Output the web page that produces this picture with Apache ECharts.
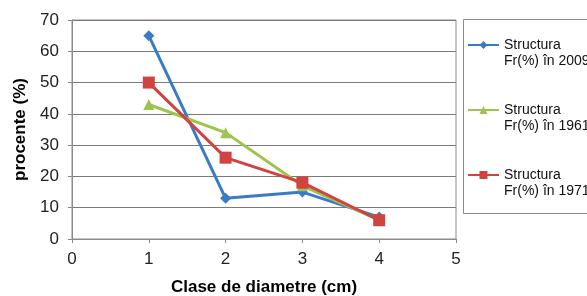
<!DOCTYPE html>
<html><head><meta charset="utf-8">
<script src="https://cdn.jsdelivr.net/npm/echarts@6/dist/echarts.min.js"></script>
<style>html,body{margin:0;padding:0;background:#fff}#c{width:587px;height:296px}</style>
</head><body><div id="c"></div>
<script>
var xValues = [1, 2, 3, 4];
var s2009 = [65, 13, 15, 7];
var s1961 = [43, 34, 17, 6];
var s1971 = [50, 26, 18, 6];
var seriesNames = ['Structura Fr(%) în 2009', 'Structura Fr(%) în 1961', 'Structura Fr(%) în 1971'];
var xTicks = [0, 1, 2, 3, 4, 5];
var yTicks = [0, 10, 20, 30, 40, 50, 60, 70];

function pairs(vals){ return xValues.map(function(x,i){ return [x, vals[i]]; }); }

var chart = echarts.init(document.getElementById('c'), null, {renderer:'canvas'});
var FONT = 'Liberation Sans, Arial, sans-serif';
chart.setOption({
  animation:false,
  textStyle:{fontFamily:FONT},
  grid:{left:72, right:131, top:20, bottom:57, show:true, borderColor:'#8a8a8a', borderWidth:1,
    containLabel:false, outerBoundsMode:'none'},
  xAxis:{type:'value', min:xTicks[0], max:xTicks[xTicks.length-1], interval:1,
    name:'Clase de diametre (cm)', nameLocation:'middle', nameGap:40,
    nameTextStyle:{fontFamily:FONT, fontSize:17, fontWeight:'bold', color:'#000'},
    axisLine:{show:true, lineStyle:{color:'#8a8a8a'}},
    axisTick:{show:true, length:4, lineStyle:{color:'#8a8a8a'}},
    axisLabel:{fontFamily:FONT, fontSize:17, color:'#222', margin:12},
    splitLine:{show:false}},
  yAxis:{type:'value', min:yTicks[0], max:yTicks[yTicks.length-1], interval:10,
    name:'procente (%)', nameLocation:'middle', nameGap:38, nameRotate:90,
    nameTextStyle:{fontFamily:FONT, fontSize:17, fontWeight:'bold', color:'#000'},
    axisLine:{show:true, lineStyle:{color:'#8a8a8a'}},
    axisTick:{show:true, length:4, lineStyle:{color:'#8a8a8a'}},
    axisLabel:{fontFamily:FONT, fontSize:17, color:'#222', margin:13},
    splitLine:{show:true, lineStyle:{color:'#7a7a7a', width:1}}},
  legend:{orient:'vertical', left:467, top:21, padding:0, itemWidth:31, itemHeight:10, itemGap:17,
    data:seriesNames,
    formatter:function(n){ return '\n' + n.replace(' Fr', '\nFr'); },
    textStyle:{fontFamily:FONT, fontSize:14, color:'#111', lineHeight:16}},
  graphic:[{type:'rect', shape:{x:463.5, y:19.5, width:200, height:194}, style:{fill:'none', stroke:'#8a8a8a', lineWidth:1}, silent:true}],
  series:[
    {name:seriesNames[0], type:'line', data:pairs(s2009), symbol:'diamond', symbolSize:11,
      lineStyle:{color:'#3a7bc8', width:3}, itemStyle:{color:'#3a7bc8'}},
    {name:seriesNames[1], type:'line', data:pairs(s1961), symbol:'triangle', symbolSize:11,
      lineStyle:{color:'#9cc44e', width:3}, itemStyle:{color:'#9cc44e'}},
    {name:seriesNames[2], type:'line', data:pairs(s1971), symbol:'rect', symbolSize:12,
      lineStyle:{color:'#d0433f', width:3}, itemStyle:{color:'#d0433f'}}
  ]
});
</script></body></html>
